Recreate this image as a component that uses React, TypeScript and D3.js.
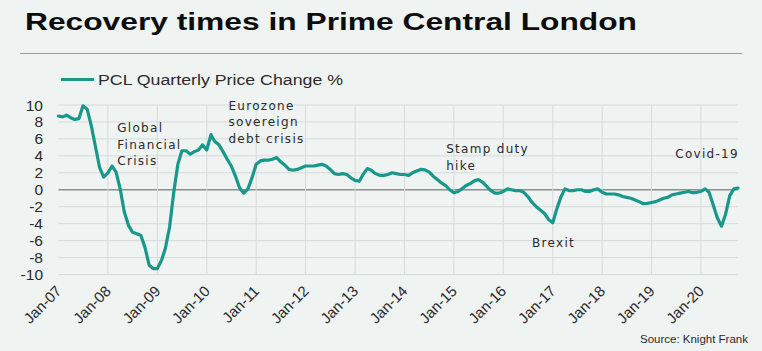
import * as d3 from 'd3';

const TITLE = 'Recovery times in Prime Central London';
const SERIES_LABEL = 'PCL Quarterly Price Change %';
const SOURCE = 'Source:  Knight Frank';

// monthly values, Jan-07 .. Oct-20
const v2007 = [8.7, 8.6, 8.8, 8.5, 8.3, 8.4, 9.9, 9.5, 7.5, 5.1, 2.6, 1.5];
const v2008 = [2.0, 2.8, 2.1, 0.1, -2.6, -4.2, -5.0, -5.2, -5.4, -6.8, -8.9, -9.3];
const v2009 = [-9.3, -8.3, -6.9, -4.4, -0.4, 3.0, 4.6, 4.6, 4.2, 4.5, 4.7, 5.3];
const v2010 = [4.7, 6.5, 5.7, 5.3, 4.5, 3.6, 2.8, 1.6, 0.2, -0.4, 0.1, 1.4];
const v2011 = [3.0, 3.4, 3.5, 3.5, 3.6, 3.8, 3.3, 2.9, 2.4, 2.3, 2.4, 2.6];
const v2012 = [2.8, 2.8, 2.8, 2.9, 3.0, 2.8, 2.4, 1.9, 1.8, 1.9, 1.8, 1.4];
const v2013 = [1.1, 1.0, 1.8, 2.5, 2.3, 1.9, 1.7, 1.7, 1.8, 2.0, 1.9, 1.8];
const v2014 = [1.8, 1.7, 2.0, 2.2, 2.4, 2.35, 2.1, 1.6, 1.2, 0.8, 0.5, 0.0];
const v2015 = [-0.35, -0.2, 0.1, 0.5, 0.7, 1.05, 1.2, 0.9, 0.4, -0.1, -0.4, -0.4];
const v2016 = [-0.2, 0.1, 0.0, -0.1, -0.1, -0.3, -0.8, -1.5, -2.0, -2.4, -2.8, -3.5];
const v2017 = [-3.9, -2.2, -0.9, 0.1, -0.1, -0.1, 0.0, 0.0, -0.2, -0.2, 0.0, 0.1];
const v2018 = [-0.3, -0.5, -0.5, -0.5, -0.6, -0.8, -0.9, -1.0, -1.2, -1.4, -1.65, -1.6];
const v2019 = [-1.5, -1.4, -1.2, -1.0, -0.9, -0.6, -0.5, -0.4, -0.3, -0.2, -0.35, -0.3];
const v2020 = [-0.2, 0.1, -0.3, -1.8, -3.3, -4.3, -2.9, -0.7, 0.1, 0.2];

const VALUES = [
  ...v2007, ...v2008, ...v2009, ...v2010, ...v2011, ...v2012, ...v2013,
  ...v2014, ...v2015, ...v2016, ...v2017, ...v2018, ...v2019, ...v2020,
];

const YEAR_LABELS = ['Jan-07', 'Jan-08', 'Jan-09', 'Jan-10', 'Jan-11', 'Jan-12', 'Jan-13',
  'Jan-14', 'Jan-15', 'Jan-16', 'Jan-17', 'Jan-18', 'Jan-19', 'Jan-20'];
const Y_TICKS = [10, 8, 6, 4, 2, 0, -2, -4, -6, -8, -10];

const NOTES = [
  { lines: ['Global', 'Financial', 'Crisis'], date: new Date(2008, 2, 10), y: 6.8 },
  { lines: ['Eurozone', 'sovereign', 'debt crisis'], date: new Date(2010, 5, 10), y: 9.45 },
  { lines: ['Stamp duty', 'hike'], date: new Date(2014, 10, 5), y: 4.3 },
  { lines: ['Brexit'], date: new Date(2016, 7, 1), y: -6.8 },
  { lines: ['Covid-19'], date: new Date(2019, 5, 25), y: 3.8 },
];

const W = 762;
const H = 351;
const teal = '#17988b';
const textColor = '#2b2b2b';

export default function App() {
  const start = new Date(2007, 0, 1);
  const months = VALUES.map((_, i) => d3.timeMonth.offset(start, i));

  const x = d3.scaleTime().domain([start, new Date(2020, 9, 1)]).range([58.5, 738]);
  const y = d3.scaleLinear().domain([-10, 10]).range([274.5, 105]);

  const line = d3
    .line<number>()
    .x((_d, i) => x(months[i]))
    .y((d) => y(d));

  const years = YEAR_LABELS.map((_, i) => new Date(2007 + i, 0, 1));

  return (
    <div style={{ position: 'absolute', left: 0, top: 0 }}>
      <svg width={W} height={H} style={{ display: 'block' }}>
        <rect width={W} height={H} fill="#eff3f2" />

        <text
          x={25}
          y={30}
          fontFamily="Liberation Sans, Arial, sans-serif"
          fontWeight="bold"
          fontSize={23}
          fill="#0d0d0d"
          textLength={612}
          lengthAdjust="spacingAndGlyphs"
        >
          {TITLE}
        </text>
        <line x1={20} x2={742} y1={53.5} y2={53.5} stroke="#9a9e9d" strokeWidth={1} />

        {/* legend */}
        <line x1={61} x2={94} y1={79.5} y2={79.5} stroke={teal} strokeWidth={3} />
        <text
          x={98}
          y={85}
          fontFamily="Liberation Sans, Arial, sans-serif"
          fontSize={15.5}
          fill={textColor}
          textLength={245}
          lengthAdjust="spacingAndGlyphs"
        >
          {SERIES_LABEL}
        </text>

        {/* grid */}
        {Y_TICKS.map((t) => (
          <line
            key={'h' + t}
            x1={58.5}
            x2={738}
            y1={y(t)}
            y2={y(t)}
            stroke={t === 0 ? '#8c8f8e' : '#d6dbda'}
            strokeWidth={t === 0 ? 1.5 : 1}
          />
        ))}
        {years.slice(1).map((d, i) => (
          <line key={'v' + i} x1={x(d)} x2={x(d)} y1={y(10)} y2={y(-10)} stroke="#d6dbda" strokeWidth={1} />
        ))}

        {/* y axis labels */}
        {Y_TICKS.map((t) => (
          <text
            key={'yl' + t}
            x={43}
            y={y(t) + 5.5}
            textAnchor="end"
            fontFamily="Liberation Sans, Arial, sans-serif"
            fontSize={15.5}
            fill={textColor}
          >
            {t}
          </text>
        ))}

        {/* x axis labels */}
        {years.map((d, i) => (
          <text
            key={'xl' + i}
            transform={`translate(${x(d) + 4},${292}) rotate(-45)`}
            textAnchor="end"
            fontFamily="Liberation Sans, Arial, sans-serif"
            fontSize={15}
            fill={textColor}
          >
            {YEAR_LABELS[i]}
          </text>
        ))}

        {/* series */}
        <path d={line(VALUES) ?? ''} fill="none" stroke={teal} strokeWidth={3.2} strokeLinejoin="round" strokeLinecap="round" />

        {/* annotations */}
        {NOTES.map((n, i) => (
          <text
            key={'n' + i}
            fontFamily="DejaVu Sans, Verdana, sans-serif"
            fontSize={12}
            letterSpacing={1.3}
            fill={textColor}
          >
            {n.lines.map((l, j) => (
              <tspan key={j} x={x(n.date)} y={y(n.y) + j * 16.6}>
                {l}
              </tspan>
            ))}
          </text>
        ))}

        <text
          x={748}
          y={342.5}
          textAnchor="end"
          fontFamily="Liberation Sans, Arial, sans-serif"
          fontSize={11.5}
          fill={textColor}
        >
          {SOURCE}
        </text>
      </svg>
    </div>
  );
}
